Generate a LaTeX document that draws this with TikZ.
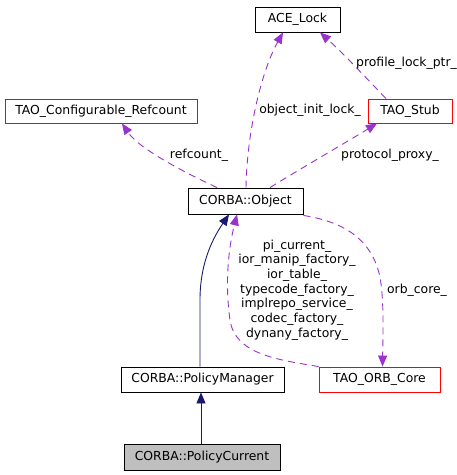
\documentclass[tikz,border=0pt]{standalone}
\usepackage{fontspec}
\setmainfont{DejaVu Sans}
\usetikzlibrary{arrows.meta}
\definecolor{edgepurple}{HTML}{9A32CD}
\definecolor{edgenavy}{HTML}{191970}
\definecolor{nodegray}{HTML}{BFBFBF}
\begin{document}
\begin{tikzpicture}[x=1pt,y=-1pt,
  box/.style={draw=black,line width=0.9pt,rectangle,inner sep=0pt,font=\fontsize{12.4}{14}\selectfont},
  redbox/.style={box,draw=red},
  usage/.style={draw=edgepurple,line width=0.9pt,dash pattern=on 7pt off 5pt,-{Triangle[length=11pt,width=9pt,fill=edgepurple]}},
  inherit/.style={draw=edgenavy,line width=0.9pt,-{Triangle[length=11pt,width=9pt,fill=edgenavy]}},
  lbl/.style={inner sep=0pt,font=\fontsize{12.4}{14.7}\selectfont,align=center}]
\useasboundingbox (0,0) rectangle (457,475);
% nodes
\node[box,minimum width=85pt,minimum height=25pt] (ace) at (297.5,19.5) {ACE\_Lock};
\node[redbox,minimum width=192pt,minimum height=24pt] (ref) at (101,111) {TAO\_Configurable\_Refcount};
\node[redbox,minimum width=84pt,minimum height=24pt] (stub) at (410,111) {TAO\_Stub};
\node[box,minimum width=115pt,minimum height=26pt] (obj) at (245.5,201) {CORBA::Object};
\node[box,minimum width=163pt,minimum height=25pt] (pm) at (202.5,379.5) {CORBA::PolicyManager};
\node[redbox,minimum width=121pt,minimum height=25pt] (orb) at (379.5,379.5) {TAO\_ORB\_Core};
\node[box,fill=nodegray,minimum width=156pt,minimum height=26pt] (pc) at (202,457) {CORBA::PolicyCurrent};
% edges
\draw[usage] ([xshift=0.5pt]obj.north) .. controls (247,130) and (262,70) .. ([xshift=-14.5pt]ace.south);
\draw[usage] ([xshift=-24pt]stub.north) .. controls (370,82) and (345,55) .. ([xshift=22.5pt]ace.south);
\draw[usage] ([xshift=-28.5pt]obj.north) .. controls (190,175) and (140,150) .. ([xshift=21pt]ref.south);
\draw[usage] ([xshift=24.5pt]obj.north) .. controls (295,172) and (350,140) .. ([xshift=-33pt]stub.south);
\draw[usage] ([yshift=-1pt]obj.south east) .. controls (345,222) and (372,240) .. (380,277) .. controls (384,300) and (383,330) .. ([xshift=3pt]orb.north);
\draw[usage] (orb.north west) .. controls (280,360) and (235,355) .. (230,320) .. controls (225,285) and (228,250) .. ([xshift=-8.5pt]obj.south);
\draw[inherit] ([xshift=-2.5pt]pm.north) -- (200,300) .. controls (200,260) and (215,235) .. ([xshift=-16.5pt]obj.south);
\draw[inherit] ([xshift=-1pt]pc.north) -- ([xshift=-1.5pt]pm.south);
% labels
\node[lbl] (l1) at (310,110) {object\_init\_lock\_};
\node[lbl] (l2) at (406.5,63) {profile\_lock\_ptr\_};
\node[lbl] (l3) at (199,155) {refcount\_};
\node[lbl] (l4) at (390,155) {protocol\_proxy\_};
\node[lbl] (l5) at (417,290) {orb\_core\_};
\node[lbl] (l6) at (297,290) {pi\_current\_\\ior\_manip\_factory\_\\ior\_table\_\\typecode\_factory\_\\implrepo\_service\_\\codec\_factory\_\\dynany\_factory\_};
\end{tikzpicture}
\end{document}
